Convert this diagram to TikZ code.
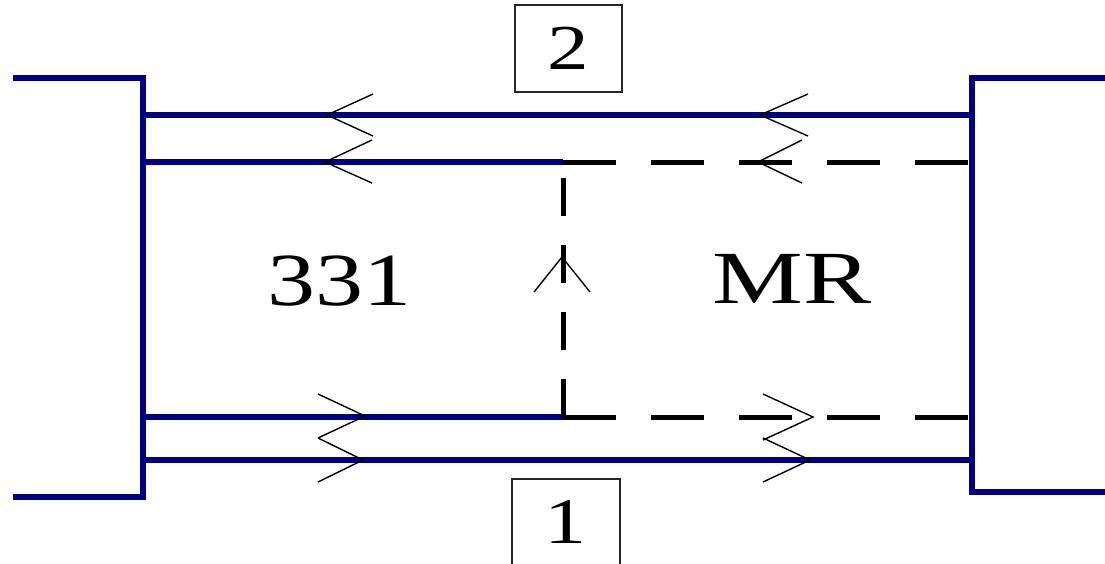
\documentclass[tikz,border=0pt]{standalone}
\usepackage{fontspec}
\setmainfont{Liberation Serif}
\definecolor{navyline}{RGB}{0,0,128}
\tikzset{
  blueline/.style={draw=navyline, line width=6.5pt, line join=miter},
  hdash/.style={draw=black, line width=5pt, dash pattern=on 53pt off 35pt},
  vdash/.style={draw=black, line width=5pt, dash pattern=on 38pt off 29pt},
  chev/.style={draw=black, line width=1.4pt, line join=miter},
  numbox/.style={draw=black!85, line width=2pt, rectangle, inner sep=0pt},
  biglbl/.style={anchor=base, inner sep=0pt, font=\fontsize{75}{80}\selectfont},
}
\begin{document}
\begin{tikzpicture}[x=1pt,y=-1pt]
\clip (0,0) rectangle (1105,563);
\useasboundingbox (0,0) rectangle (1105,563);
% named points
\coordinate (LT) at (13,78);   \coordinate (LTc) at (143,78);
\coordinate (LBc) at (143,497); \coordinate (LB) at (13,497);
\coordinate (RT) at (1105,78); \coordinate (RTc) at (972,78);
\coordinate (RBc) at (972,492); \coordinate (RB) at (1105,492);
\coordinate (L1) at (143,115); \coordinate (R1) at (972,115);
\coordinate (L2) at (143,162); \coordinate (M2) at (563,162); \coordinate (R2) at (972,162);
\coordinate (L3) at (143,417); \coordinate (M3) at (563,417); \coordinate (R3) at (972,417);
\coordinate (L4) at (143,460); \coordinate (R4) at (972,460);
% solid blue lines
\draw[blueline] (L1) -- (R1);
\draw[blueline] (L2) -- (M2);
\draw[blueline] (L3) -- (M3);
\draw[blueline] (L4) -- (R4);
% dashed black lines
\draw[hdash] (M2) -- (R2);
\draw[hdash] (M3) -- (R3);
\draw[vdash] (M3) -- (M2);
% brackets
\draw[blueline] (LT) -- (LTc) -- (LBc) -- (LB);
\draw[blueline] (RT) -- (RTc) -- (RBc) -- (RB);
% chevrons (arrow marks)
\draw[chev] (373,94) -- (327,115) -- (373,136);
\draw[chev] (372,140) -- (325,162) -- (372,183);
\draw[chev] (808,94) -- (760,115) -- (808,136);
\draw[chev] (802,140) -- (758,162) -- (802,183);
\draw[chev] (318,394) -- (365,416) -- (318,438);
\draw[chev] (318,438) -- (363,460) -- (318,482);
\draw[chev] (763,394) -- (813,417) -- (763,440);
\draw[chev] (763,438) -- (810,460) -- (763,482);
\draw[chev] (534,292) -- (562,257) -- (590,292);
% labels
\node[biglbl] (t331) at (339,305) {\scalebox{1.28}[1]{331}};
\node[biglbl] (tMR) at (792,303) {\scalebox{1.36}[1]{MR}};
\node[numbox, minimum width=107pt, minimum height=87pt, font=\fontsize{64}{70}\selectfont] (b2) at (568.5,48.5) {\scalebox{1.3}[1]{2}};
\node[numbox, minimum width=108pt, minimum height=87pt, font=\fontsize{65}{70}\selectfont] (b1) at (566,522.5) {\scalebox{1.3}[1]{1}};
\end{tikzpicture}
\end{document}
